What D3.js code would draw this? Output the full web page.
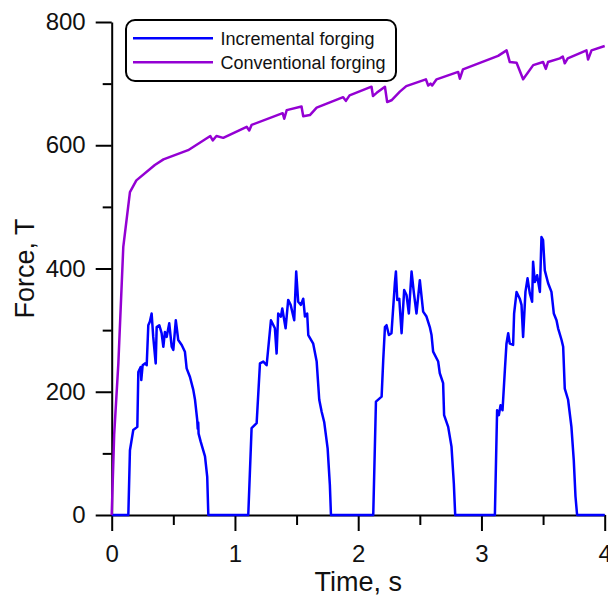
<!DOCTYPE html>
<html>
<head>
<meta charset="utf-8">
<script src="https://cdn.jsdelivr.net/npm/d3@7"></script>
<style>
  body { margin: 0; padding: 0; background: #fff; }
  svg { font-family: "Liberation Sans", Arial, sans-serif; }
</style>
</head>
<body>
<div id="chart"></div>
<script>
// series names
const seriesNames = ['Incremental forging', 'Conventional forging'];

// Incremental forging: time (s) and force (T)
const incT = [0, 0.135, 0.148, 0.175, 0.208, 0.216, 0.235, 0.24, 0.251, 0.27, 0.284, 0.297, 0.31, 0.324, 0.337, 0.357, 0.365, 0.386, 0.405, 0.419, 0.432, 0.446, 0.467, 0.487, 0.5, 0.52, 0.54, 0.568, 0.594, 0.608, 0.635, 0.662, 0.676, 0.694, 0.698, 0.702, 0.705, 0.722, 0.757, 0.775, 0.784,
  1.108, 1.135, 1.176, 1.203, 1.23, 1.257, 1.292, 1.324, 1.338, 1.351, 1.373, 1.384, 1.411, 1.432, 1.452, 1.481, 1.497, 1.513, 1.535, 1.554, 1.568, 1.586, 1.595, 1.635, 1.663, 1.684, 1.703, 1.724, 1.752, 1.77, 1.779,
  2.122, 2.144, 2.19, 2.203, 2.217, 2.23, 2.249, 2.27, 2.298, 2.306, 2.317, 2.333, 2.352, 2.373, 2.392, 2.411, 2.433, 2.452, 2.473, 2.5, 2.527, 2.554, 2.581, 2.595, 2.608, 2.649, 2.662, 2.689, 2.697, 2.73, 2.757, 2.776, 2.787,
  3.109, 3.127, 3.141, 3.155, 3.171, 3.19, 3.203, 3.217, 3.23, 3.257, 3.265, 3.285, 3.311, 3.325, 3.338, 3.357, 3.374, 3.392, 3.411, 3.419, 3.433, 3.452, 3.474, 3.487, 3.5, 3.514, 3.541, 3.568, 3.587, 3.609, 3.622, 3.65, 3.663, 3.676, 3.703, 3.73, 3.749, 3.763, 3.776, 4.0];
const incF = [0, 0, 105, 138, 143, 232, 240, 219, 243, 246, 243, 308, 314, 327, 289, 246, 305, 308, 295, 273, 297, 289, 311, 273, 268, 316, 284, 276, 265, 238, 224, 203, 187, 154, 140, 150, 132, 119, 95, 62, 0,
  0, 141, 149, 246, 249, 243, 316, 303, 262, 327, 322, 335, 303, 349, 341, 316, 395, 346, 341, 351, 322, 327, 292, 278, 249, 187, 168, 151, 108, 49, 0,
  0, 184, 192, 251, 305, 308, 292, 295, 378, 395, 349, 351, 295, 365, 357, 327, 395, 360, 327, 381, 330, 322, 305, 292, 265, 249, 230, 214, 162, 143, 111, 51, 0,
  0, 170, 162, 178, 170, 235, 278, 295, 278, 276, 327, 362, 351, 341, 289, 362, 384, 360, 346, 411, 378, 389, 362, 451, 446, 397, 376, 362, 327, 316, 303, 284, 273, 205, 187, 143, 89, 30, 0, 0];

// Conventional forging: time (s) and force (T)
const conT = [0, 0.02, 0.054, 0.094, 0.148, 0.2, 0.35, 0.42, 0.62, 0.8, 0.82, 0.85, 0.905, 1.095, 1.116, 1.135, 1.387, 1.4, 1.42, 1.54, 1.554, 1.608, 1.663, 1.878, 1.9, 1.93, 2.108, 2.12, 2.15, 2.217, 2.235, 2.27, 2.338, 2.39, 2.549, 2.568, 2.587, 2.6, 2.636, 2.811, 2.825, 2.85, 3.135, 3.204, 3.23, 3.285, 3.338, 3.42, 3.5, 3.522, 3.54, 3.636, 3.66, 3.676, 3.7, 3.852, 3.865, 3.893, 4.0];
const conF = [0, 130, 246, 435, 524, 543, 568, 577, 592, 615, 608, 615, 612, 630, 624, 633, 652, 643, 657, 663, 647, 649, 661, 678, 672, 681, 695, 680, 685, 695, 670, 673, 687, 696, 707, 697, 700, 697, 707, 719, 708, 723, 745, 754, 735, 734, 707, 730, 735, 724, 735, 741, 744, 733, 741, 754, 739, 754, 761];

const yTicks = [0, 200, 400, 600, 800];
const xTicks = [0, 1, 2, 3, 4];
const colors = ['#0000ff', '#9400d3'];

const W = 608, H = 597;
const margin = { top: 22, left: 111.7, right: 3.3, bottom: 82 };
const w = W - margin.left - margin.right;
const h = H - margin.top - margin.bottom;

const svg = d3.select('#chart').append('svg').attr('width', W).attr('height', H);
const g = svg.append('g').attr('transform', 'translate(' + margin.left + ',' + margin.top + ')');

const x = d3.scaleLinear().domain([0, 4]).range([0, w]);
const y = d3.scaleLinear().domain([0, 800]).range([h, 0]);

// minor ticks
g.append('g')
  .call(d3.axisLeft(y).tickValues([100, 300, 500, 700]).tickSize(9).tickFormat(''))
  .call(a => a.select('.domain').remove())
  .call(a => a.selectAll('line').attr('stroke-width', 2));
g.append('g').attr('transform', 'translate(0,' + h + ')')
  .call(d3.axisBottom(x).tickValues([0.5, 1.5, 2.5, 3.5]).tickSize(10).tickFormat(''))
  .call(a => a.select('.domain').remove())
  .call(a => a.selectAll('line').attr('stroke-width', 2));

// major axes
const yAxis = g.append('g')
  .call(d3.axisLeft(y).tickValues(yTicks).tickSize(16).tickSizeOuter(0).tickPadding(10));
const xAxis = g.append('g').attr('transform', 'translate(0,' + h + ')')
  .call(d3.axisBottom(x).tickValues(xTicks).tickSize(16).tickSizeOuter(0).tickPadding(14).tickFormat(d3.format('d')));
[yAxis, xAxis].forEach(a => {
  a.selectAll('line').attr('stroke-width', 2);
  a.select('.domain').attr('stroke-width', 2);
  a.selectAll('text').attr('font-size', 24).attr('fill', '#111')
    .style('font-family', '"Liberation Sans", Arial, sans-serif');
});

// lines
const line = d3.line().x(d => x(d[0])).y(d => y(d[1]));
const incData = incT.map((t, i) => [t, incF[i]]);
const conData = conT.map((t, i) => [t, conF[i]]);
g.append('path').datum(incData).attr('d', line)
  .attr('fill', 'none').attr('stroke', colors[0]).attr('stroke-width', 2.5).attr('stroke-linejoin', 'round');
g.append('path').datum(conData).attr('d', line)
  .attr('fill', 'none').attr('stroke', colors[1]).attr('stroke-width', 2.5).attr('stroke-linejoin', 'round');

// axis titles
svg.append('text').attr('x', margin.left + w / 2).attr('y', 591)
  .attr('text-anchor', 'middle').attr('font-size', 27).attr('fill', '#111').text('Time, s');
svg.append('text').attr('transform', 'translate(34,' + (margin.top + h / 2) + ') rotate(-90)')
  .attr('text-anchor', 'middle').attr('font-size', 27).attr('fill', '#111').text('Force, T');

// legend
const leg = svg.append('g');
leg.append('rect').attr('x', 126).attr('y', 20).attr('width', 270).attr('height', 61)
  .attr('rx', 9).attr('fill', '#fff').attr('stroke', '#000').attr('stroke-width', 2);
seriesNames.forEach((name, i) => {
  const ly = 38.3 + i * 24;
  leg.append('line').attr('x1', 133).attr('x2', 213).attr('y1', ly).attr('y2', ly)
    .attr('stroke', colors[i]).attr('stroke-width', 2.5);
  leg.append('text').attr('x', 220.5).attr('y', ly + 6.3).attr('font-size', 18).attr('fill', '#111').text(name);
});
</script>
</body>
</html>
